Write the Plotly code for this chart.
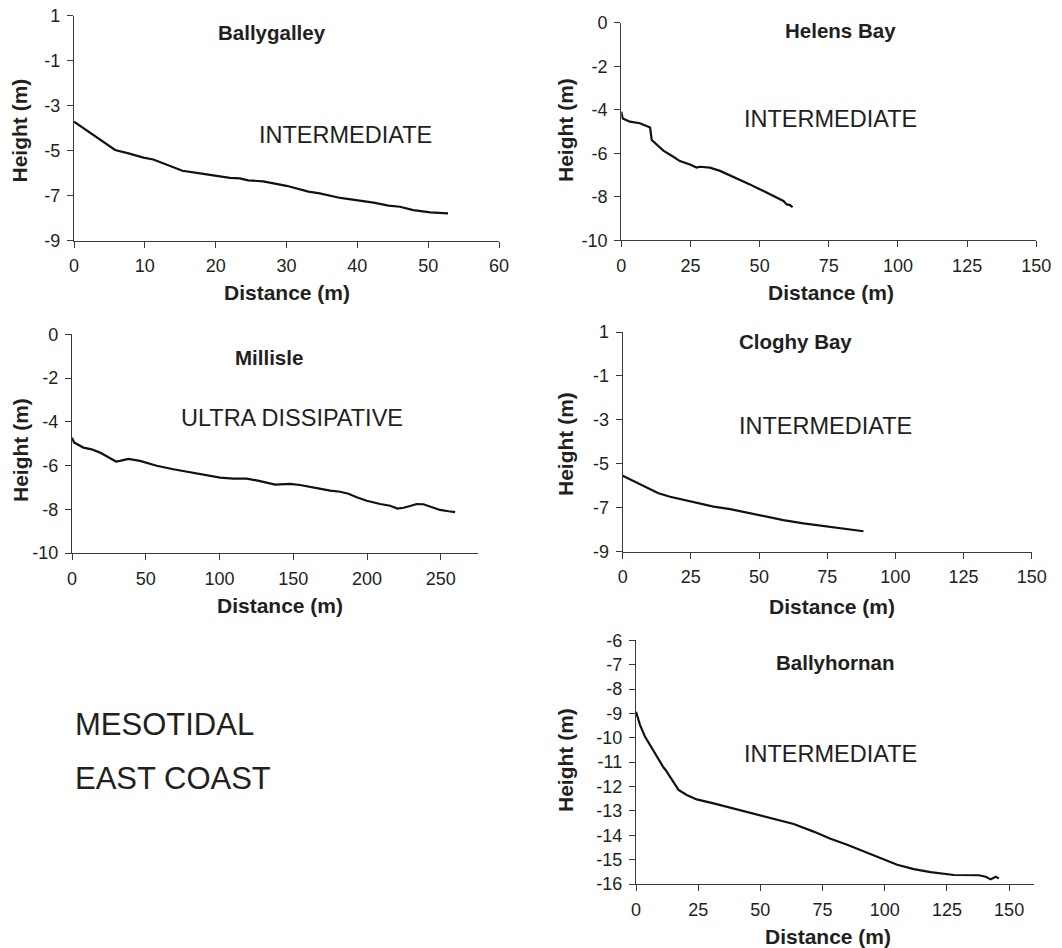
import plotly.graph_objects as go

W, H = 1062, 948

# ---------------- data ----------------
ballygalley_x = [0, 5.8, 7.7, 9.8, 11.2, 12.6, 14.0, 15.3, 17.8, 20.1, 22.0, 23.4, 24.6, 26.7, 30.0,
                 33.1, 34.7, 37.6, 38.7, 41.3, 42.3, 44.4, 46.0, 47.9, 50.3, 52.8]
ballygalley_y = [-3.71, -4.97, -5.12, -5.31, -5.39, -5.56, -5.71, -5.89, -6.01, -6.11, -6.21, -6.23, -6.32,
                 -6.36, -6.56, -6.82, -6.90, -7.10, -7.15, -7.27, -7.31, -7.44, -7.49, -7.64, -7.74, -7.79]

helens_x = [0, 0.5, 3.1, 6.7, 9.8, 10.4, 11.0, 12.8, 15.2, 18.8, 21.2, 24.8, 27.2, 28.4, 32.0, 35.7,
            40.5, 44.1, 46.5, 48.9, 51.3, 54.9, 58.6, 59.8, 61.0, 61.9]
helens_y = [-4.09, -4.40, -4.55, -4.62, -4.78, -4.82, -5.39, -5.62, -5.88, -6.16, -6.36, -6.52, -6.66,
            -6.62, -6.66, -6.81, -7.07, -7.27, -7.43, -7.58, -7.73, -7.96, -8.19, -8.35, -8.38, -8.48]

millisle_x = [0, 1.4, 7.7, 13.3, 19.0, 23.5, 29.8, 32.5, 38.2, 46.1, 57.4, 68.7, 80.0, 91.3, 100.4,
              109.4, 118.4, 125.2, 132.0, 137.7, 147.8, 154.6, 165.9, 175.0, 181.7, 187.4, 193.0,
              199.8, 208.9, 215.6, 220.6, 224.7, 229.2, 233.7, 238.2, 242.8, 249.5, 255.2, 259.7]
millisle_y = [-4.73, -4.95, -5.18, -5.26, -5.41, -5.59, -5.82, -5.79, -5.70, -5.79, -6.01, -6.17, -6.31,
              -6.46, -6.55, -6.60, -6.60, -6.68, -6.78, -6.87, -6.84, -6.89, -7.03, -7.15, -7.20,
              -7.29, -7.45, -7.61, -7.76, -7.84, -7.97, -7.93, -7.85, -7.76, -7.77, -7.88, -8.03,
              -8.09, -8.13]

cloghy_x = [0, 6.4, 13.1, 17.4, 24.7, 33.3, 39.4, 46.7, 52.8, 58.9, 66.3, 73.6, 80.9, 88.3]
cloghy_y = [-5.54, -5.93, -6.34, -6.50, -6.72, -6.95, -7.06, -7.25, -7.38, -7.56, -7.71, -7.83, -7.95, -8.07]

ballyhornan_x = [0, 1.6, 3.6, 5.6, 8.3, 11.0, 11.9, 13.7, 17.1, 20.4, 24.4, 31.2, 37.9, 44.6, 51.3,
                 58.0, 63.4, 71.4, 78.2, 84.9, 91.6, 98.3, 105.0, 111.7, 118.4, 127.8, 137.9, 140.6,
                 142.6, 144.6, 145.9]
ballyhornan_y = [-8.93, -9.47, -9.95, -10.30, -10.77, -11.21, -11.32, -11.60, -12.14, -12.35, -12.53,
                 -12.69, -12.87, -13.06, -13.24, -13.40, -13.54, -13.85, -14.14, -14.39, -14.66,
                 -14.96, -15.21, -15.39, -15.51, -15.63, -15.64, -15.70, -15.81, -15.70, -15.77]

station_names = ["Ballygalley", "Helens Bay", "Millisle", "Cloghy Bay", "Ballyhornan"]
beach_types = ["INTERMEDIATE", "INTERMEDIATE", "ULTRA DISSIPATIVE", "INTERMEDIATE", "INTERMEDIATE"]
region_labels = ["MESOTIDAL", "EAST COAST"]
x_title = "Distance (m)"
y_title = "Height (m)"

x_ticks = [
    [0, 10, 20, 30, 40, 50, 60],
    [0, 25, 50, 75, 100, 125, 150],
    [0, 50, 100, 150, 200, 250],
    [0, 25, 50, 75, 100, 125, 150],
    [0, 25, 50, 75, 100, 125, 150],
]
y_ticks = [
    [1, -1, -3, -5, -7, -9],
    [0, -2, -4, -6, -8, -10],
    [0, -2, -4, -6, -8, -10],
    [1, -1, -3, -5, -7, -9],
    [-6, -7, -8, -9, -10, -11, -12, -13, -14, -15, -16],
]
x_ranges = [[0, 60], [0, 150], [0, 275], [0, 150], [0, 160]]
y_ranges = [[-9, 1], [-10, 0], [-10, 0], [-9, 1], [-16, -6]]

series = [
    (ballygalley_x, ballygalley_y),
    (helens_x, helens_y),
    (millisle_x, millisle_y),
    (cloghy_x, cloghy_y),
    (ballyhornan_x, ballyhornan_y),
]

# ---------------- layout (pixel geometry) ----------------
# plot area boxes: left, right, top, bottom (pixels)
boxes = [
    (74, 499, 15.7, 240.7),
    (621.3, 1036.3, 22.7, 240.3),
    (72, 477.7, 334.3, 553),
    (622.7, 1031.7, 332, 551.7),
    (636, 1034, 640.3, 884),
]
name_pos = [(272, 33), (840.5, 31), (269, 358), (795, 342), (835, 662.7)]
type_pos = [(345, 135), (830, 119), (292, 417.7), (825.5, 425.7), (830.5, 754)]
xtitle_pos = [(287, 293), (831, 293), (280, 605), (832, 606), (828, 936.7)]
ytitle_pos = [(18.5, 131), (565, 130), (20, 450), (565, 444), (565, 760)]
region_pos = [(73, 724), (73, 778.5)]

FONT = "Arial, Liberation Sans, Helvetica, sans-serif"
TXT = "#231f20"
AXC = "#3a3a3a"


def px(x):
    return x / W


def py(y):
    return 1 - y / H


def fmt(v):
    return str(v)  # plain hyphen-minus


fig = go.Figure()
annotations = []
layout = {}

for i, ((xs, ys), box) in enumerate(zip(series, boxes)):
    n = "" if i == 0 else str(i + 1)
    fig.add_trace(go.Scatter(
        x=xs, y=ys, mode="lines",
        line=dict(color="#111111", width=2.2),
        xaxis="x" + n, yaxis="y" + n, showlegend=False, hoverinfo="skip",
    ))
    l, r, t, b = box
    common = dict(
        showgrid=False, zeroline=False, showline=True, linecolor=AXC, linewidth=1.3,
        ticks="outside", ticklen=6, tickwidth=1.3, tickcolor=AXC, automargin=False,
        tickfont=dict(family=FONT, size=18, color=TXT), fixedrange=True,
    )
    layout["xaxis" + n] = dict(
        common, domain=[px(l), px(r)], range=x_ranges[i], anchor="y" + n,
        tickmode="array", tickvals=x_ticks[i], ticktext=[fmt(v) for v in x_ticks[i]],
        ticklabelstandoff=3,
    )
    layout["yaxis" + n] = dict(
        common, domain=[py(b), py(t)], range=y_ranges[i], anchor="x" + n,
        tickmode="array", tickvals=y_ticks[i], ticktext=[fmt(v) for v in y_ticks[i]],
        ticklabelstandoff=3,
    )
    annotations.append(dict(
        text="<b>%s</b>" % station_names[i], x=px(name_pos[i][0]), y=py(name_pos[i][1]),
        xref="paper", yref="paper", xanchor="center", yanchor="middle", showarrow=False,
        font=dict(family=FONT, size=20.5, color=TXT)))
    annotations.append(dict(
        text=beach_types[i], x=px(type_pos[i][0]), y=py(type_pos[i][1]),
        xref="paper", yref="paper", xanchor="center", yanchor="middle", showarrow=False,
        font=dict(family=FONT, size=23.5, color=TXT)))
    annotations.append(dict(
        text="<b>%s</b>" % x_title, x=px(xtitle_pos[i][0]), y=py(xtitle_pos[i][1]),
        xref="paper", yref="paper", xanchor="center", yanchor="middle", showarrow=False,
        font=dict(family=FONT, size=21, color=TXT)))
    annotations.append(dict(
        text="<b>%s</b>" % y_title, x=px(ytitle_pos[i][0]), y=py(ytitle_pos[i][1]),
        xref="paper", yref="paper", xanchor="center", yanchor="middle", showarrow=False,
        textangle=-90, font=dict(family=FONT, size=21, color=TXT)))

for label, pos in zip(region_labels, region_pos):
    annotations.append(dict(
        text=label, x=px(pos[0]), y=py(pos[1]), xref="paper", yref="paper",
        xanchor="left", yanchor="middle", showarrow=False,
        font=dict(family=FONT, size=31, color=TXT)))

fig.update_layout(
    template="none",
    width=W, height=H, margin=dict(l=0, r=0, t=0, b=0, pad=0, autoexpand=False),
    paper_bgcolor="white", plot_bgcolor="white",
    annotations=annotations, showlegend=False, **layout,
)

fig.write_html("out.html", config={"displayModeBar": False})
